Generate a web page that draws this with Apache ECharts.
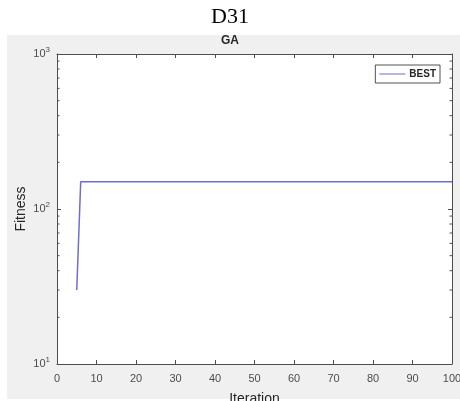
<!DOCTYPE html>
<html><head><meta charset="utf-8">
<script src="https://cdn.jsdelivr.net/npm/echarts@6/dist/echarts.min.js"></script>
<style>html,body{margin:0;padding:0;background:#fff}#c{width:460px;height:401px}</style>
</head><body><div id="c"></div>
<script>
// Data
const iterations = [];
for (let i = 5; i <= 100; i++) iterations.push(i);
const bestValues = [30];
for (let i = 6; i <= 100; i++) bestValues.push(150);
const xTicks = [0,10,20,30,40,50,60,70,80,90,100];
const minorTickValues = [20,30,40,50,60,70,80,90,200,300,400,500,600,700,800,900];

const chart = echarts.init(document.getElementById('c'));
const grid = {left: 57, right: 8, top: 54, bottom: 37};
const lineData = iterations.map((x, i) => [x, bestValues[i]]);
const axisColor = '#4d4d4d';
const labelFont = {color: '#4d4d4d', fontFamily: 'Liberation Sans, Arial, sans-serif', fontSize: 11};

chart.setOption({
  animation: false,
  backgroundColor: '#fff',
  graphic: [
    {type: 'rect', z: -10, shape: {x: 7, y: 35, width: 453, height: 364}, style: {fill: '#f0f0f0'}},
    {type: 'text', left: 'center', top: 6, style: {text: 'D31', font: '22px "Liberation Serif", "Times New Roman", serif', fill: '#000'}},
    {type: 'text', left: 'center', top: 35, style: {text: 'GA', font: 'bold 12px "Liberation Sans", Arial, sans-serif', fill: '#262626'}}
  ],
  grid: Object.assign({backgroundColor: '#fff', show: true, borderWidth: 0, outerBoundsMode: 'none', containLabel: false}, grid),
  legend: {
    right: 20, top: 65, orient: 'vertical',
    backgroundColor: '#fff', borderColor: '#262626', borderWidth: 0.8, borderRadius: 0,
    padding: [4, 4, 4, 4], itemWidth: 26, itemHeight: 10, itemGap: 0,
    textStyle: {fontFamily: 'Liberation Sans, Arial, sans-serif', fontSize: 10, color: '#262626', fontWeight: 'bold', padding: [0, 0, 0, -1]},
    data: [{name: 'BEST', icon: 'path://M0,5 L26,5 L26,6 L0,6 Z'}]
  },
  xAxis: [{
    type: 'value', min: 0, max: 100, interval: 10,
    name: 'Iteration', nameLocation: 'middle', nameGap: 28, nameMoveOverlap: false,
    nameTextStyle: {fontFamily: 'Liberation Sans, Arial, sans-serif', fontSize: 14, color: '#262626'},
    axisLine: {show: true, onZero: false, lineStyle: {color: axisColor, width: 1}},
    axisTick: {show: true, inside: true, length: 4, lineStyle: {color: axisColor}},
    axisLabel: Object.assign({margin: 9}, labelFont),
    splitLine: {show: false}
  }, {
    type: 'value', min: 0, max: 100, interval: 10, position: 'top',
    axisLine: {show: true, onZero: false, lineStyle: {color: axisColor, width: 1}},
    axisTick: {show: true, inside: true, length: 4, lineStyle: {color: axisColor}},
    axisLabel: {show: false}, splitLine: {show: false}
  }],
  yAxis: [{
    type: 'log', logBase: 10, min: 10, max: 1000,
    name: 'Fitness', nameLocation: 'middle', nameGap: 29, nameMoveOverlap: false,
    nameTextStyle: {fontFamily: 'Liberation Sans, Arial, sans-serif', fontSize: 14, color: '#262626'},
    axisLine: {show: true, onZero: false, lineStyle: {color: axisColor, width: 1}},
    axisTick: {show: true, inside: true, length: 4, lineStyle: {color: axisColor}},
    axisLabel: Object.assign({
      margin: 7,
      formatter: v => '10{sup|' + Math.round(Math.log10(v)) + '}',
      rich: {sup: {fontSize: 8, verticalAlign: 'top', padding: [0, 0, 9, 0], color: '#4d4d4d', fontFamily: 'Liberation Sans, Arial, sans-serif'}}
    }, labelFont),
    splitLine: {show: false}
  }, {
    type: 'log', logBase: 10, min: 10, max: 1000, position: 'right',
    axisLine: {show: true, onZero: false, lineStyle: {color: axisColor, width: 1}},
    axisTick: {show: true, inside: true, length: 4, lineStyle: {color: axisColor}},
    axisLabel: {show: false}, splitLine: {show: false}
  }],
  series: [{
    name: 'BEST', type: 'line', data: lineData, showSymbol: false, symbol: 'none',
    lineStyle: {color: '#6e6ecf', width: 1.5}, itemStyle: {color: '#6e6ecf'}, z: 3
  }, {
    type: 'custom', silent: true, legendHoverLink: false, z: 2,
    data: minorTickValues.map(v => [0, v]),
    renderItem: function (params, api) {
      const p = api.coord([0, api.value(1)]);
      const r = api.coord([100, api.value(1)]);
      return {type: 'group', children: [
        {type: 'line', shape: {x1: p[0], y1: p[1], x2: p[0] + 2.5, y2: p[1]}, style: {stroke: axisColor, lineWidth: 1}},
        {type: 'line', shape: {x1: r[0], y1: r[1], x2: r[0] - 2.5, y2: r[1]}, style: {stroke: axisColor, lineWidth: 1}}
      ]};
    }
  }]
});
</script></body></html>
